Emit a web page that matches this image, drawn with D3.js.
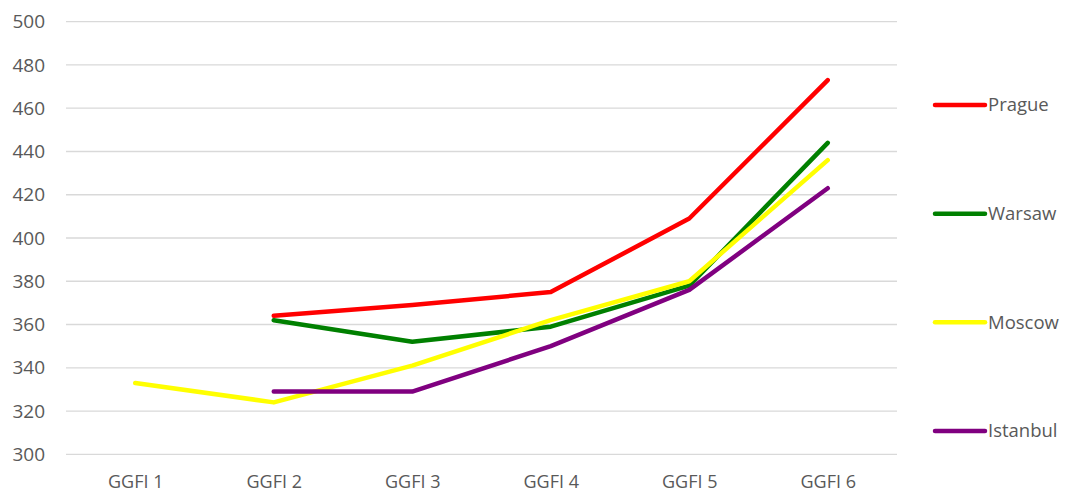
<!DOCTYPE html>
<html>
<head>
<meta charset="utf-8">
<script src="https://cdn.jsdelivr.net/npm/d3@7"></script>
<style>
  html, body { margin: 0; padding: 0; background: #fff; }
  svg text { font-family: "Open Sans", "Liberation Sans", sans-serif; fill: #595959; }
</style>
</head>
<body>
<svg id="chart" width="1069" height="495"></svg>
<script>
// Categories along the x axis
const categories = ["GGFI 1", "GGFI 2", "GGFI 3", "GGFI 4", "GGFI 5", "GGFI 6"];

// Series values per category (null = no rating in that edition)
const prague   = [null, 364, 369, 375, 409, 473];
const warsaw   = [null, 362, 352, 359, 378, 444];
const moscow   = [333, 324, 341, 362, 380, 436];
const istanbul = [null, 329, 329, 350, 376, 423];

const seriesNames  = ["Prague", "Warsaw", "Moscow", "Istanbul"];
const seriesColors = ["#ff0000", "#008000", "#ffff00", "#800080"];
const seriesValues = [prague, warsaw, moscow, istanbul];

// Y axis ticks
const yTicks = [300, 320, 340, 360, 380, 400, 420, 440, 460, 480, 500];

const svg = d3.select("#chart");
const plot = { left: 66, right: 897, top: 21.7, bottom: 454.3 };

const x = d3.scalePoint()
  .domain(categories)
  .range([plot.left, plot.right])
  .padding(0.5);

const y = d3.scaleLinear()
  .domain([300, 500])
  .range([plot.bottom, plot.top]);

// Horizontal gridlines
svg.append("g")
  .selectAll("line")
  .data(yTicks)
  .join("line")
  .attr("x1", plot.left)
  .attr("x2", plot.right)
  .attr("y1", d => y(d))
  .attr("y2", d => y(d))
  .attr("stroke", "#d9d9d9")
  .attr("stroke-width", 1.3);

// Y axis labels
const yAxis = svg.append("g")
  .attr("transform", `translate(${plot.left - 21},0)`)
  .call(d3.axisLeft(y).tickValues(yTicks).tickSize(0).tickPadding(0));
yAxis.select(".domain").remove();
yAxis.selectAll("text")
  .style("font-size", "19px")
  .style("font-family", "'Open Sans', sans-serif")
  .attr("fill", "#595959");

// X axis labels
const xAxis = svg.append("g")
  .attr("transform", `translate(0,${plot.bottom})`)
  .call(d3.axisBottom(x).tickSize(0).tickPadding(21));
xAxis.select(".domain").remove();
xAxis.selectAll("text")
  .style("font-size", "18px")
  .style("font-family", "'Open Sans', sans-serif")
  .attr("fill", "#595959");

// Series lines
const line = d3.line()
  .defined(d => d.v !== null)
  .x(d => x(d.c))
  .y(d => y(d.v));

seriesValues.forEach((vals, i) => {
  const pts = vals.map((v, j) => ({ c: categories[j], v }));
  svg.append("path")
    .datum(pts)
    .attr("d", line)
    .attr("fill", "none")
    .attr("stroke", seriesColors[i])
    .attr("stroke-width", 4.5)
    .attr("stroke-linejoin", "round")
    .attr("stroke-linecap", "round");
});

// Legend on the right
const legendY = d3.scalePoint()
  .domain(seriesNames)
  .range([105, 431]);

const legend = svg.append("g")
  .selectAll("g")
  .data(seriesNames)
  .join("g")
  .attr("transform", d => `translate(935,${legendY(d)})`);

legend.append("line")
  .attr("x1", 0).attr("x2", 50)
  .attr("y1", 0).attr("y2", 0)
  .attr("stroke", (d, i) => seriesColors[i])
  .attr("stroke-width", 4.5)
  .attr("stroke-linecap", "round");

legend.append("text")
  .attr("x", 53)
  .attr("dy", "0.35em")
  .style("font-size", "18.5px")
  .text(d => d);
</script>
</body>
</html>
